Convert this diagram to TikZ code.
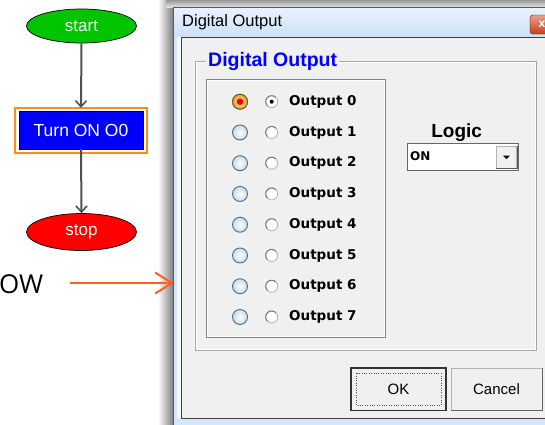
\documentclass[tikz,border=0pt]{standalone}
\usepackage{fontspec}
\setmainfont{Liberation Sans}
\newfontfamily\dvsans{DejaVu Sans}
\newfontfamily\opensans{Open Sans}
\usetikzlibrary{arrows.meta,shapes.geometric,shadings}
\newcommand\fsz[1]{\fontsize{#1}{#1}\selectfont}

\definecolor{dlgbg}{RGB}{240,240,240}
\definecolor{framebl}{RGB}{214,231,250}
\definecolor{titletop}{RGB}{232,242,253}
\definecolor{titlebot}{RGB}{205,224,246}
\definecolor{flowgray}{RGB}{80,80,80}
\definecolor{startgreen}{RGB}{0,196,0}
\definecolor{procblue}{RGB}{0,0,255}
\definecolor{procorange}{RGB}{255,140,20}
\definecolor{ptrorange}{RGB}{255,96,32}
\definecolor{radioedge}{RGB}{70,110,140}
\definecolor{radioin}{RGB}{252,253,254}
\definecolor{radioout}{RGB}{205,218,226}
\definecolor{selin}{RGB}{255,236,160}
\definecolor{selout}{RGB}{225,160,50}
\definecolor{closetop}{RGB}{235,160,140}
\definecolor{closebot}{RGB}{200,60,30}

\begin{document}
\begin{tikzpicture}[x=1pt,y=-1pt,
  flowline/.style={draw=flowgray,line width=2pt,
    -{Straight Barb[length=6pt,width=11pt,line width=1.6pt]}},
  term/.style={ellipse,draw=black,line width=0.7pt,minimum width=110pt,
    inner sep=0pt,text=white,font=\fsz{17}},
  procbox/.style={rectangle,draw=black,line width=0.7pt,fill=procblue,
    text=white,minimum width=124pt,minimum height=37.7pt,inner sep=0pt,
    font=\fsz{17.5}},
  pointer/.style={draw=ptrorange,line width=2pt,
    -{Straight Barb[length=17pt,width=21pt,line width=2pt]}},
  bigradio/.style={circle,draw=radioedge,line width=0.9pt,minimum size=15pt,
    inner sep=0pt,shading=radial,inner color=radioin,outer color=radioout},
  smallradio/.style={circle,draw=black!30,line width=0.8pt,fill=white,
    minimum size=12pt,inner sep=0pt},
  outlabel/.style={anchor=west,inner sep=0pt,font=\dvsans\bfseries\fsz{13.5}},
  btn/.style={rectangle,fill=dlgbg,inner sep=0pt,minimum height=42.7pt,
    font=\fsz{15}}
]
\useasboundingbox (0,0) rectangle (545,424);
\fill[white] (0,0) rectangle (545,424);

% drop shadow of the dialog window
\shade[left color=white,right color=black!50] (158,0) rectangle (173,424);
\shade[top color=black!40,bottom color=black!12] (166,0) rectangle (545,7);

% window frame and title bar
\fill[framebl] (173,7) rectangle (560,430);
\shade[top color=titletop,bottom color=titlebot] (174,8) rectangle (560,37);
\fill[white!70!framebl] (177,37) rectangle (181,418);
\draw[black!65,line width=0.8pt] (173,7) rectangle (560,430);
\node[anchor=west,inner sep=0pt,font=\fsz{16.5}] (title) at (182,22.5) {Digital Output};

% close button
\shade[top color=closetop,bottom color=closebot,draw=black!60!red,
  rounded corners=3pt] (530,15) rectangle (565,34);
\node[text=white,font=\bfseries\fsz{12}] (closex) at (542,24) {x};

% client area
\filldraw[fill=dlgbg,draw=black!75,line width=1.2pt] (181.5,37.5) rectangle (560,418.5);

% group box
\draw[black!35] (195.5,61) rectangle (536.5,350);
\draw[white] (196.5,62) rectangle (535.5,349);
\node[anchor=west,fill=dlgbg,inner xsep=2pt,inner ysep=1pt,text=procblue,
  font=\bfseries\fsz{19.5}] (grp) at (206,61) {Digital Output};

% radio panel
\draw[black!50] (206.5,79.5) rectangle (385,337.5);
\draw[white] (207.5,80.5) rectangle (384,336.5);

\foreach \i in {0,...,7}{
  \pgfmathsetmacro\yy{101.7+30.75*\i}
  \node[bigradio] (rb\i) at (240,\yy) {};
  \node[smallradio] (rs\i) at (271.7,\yy) {};
  \draw[black!55,line width=0.9pt] ([shift={(4.24pt,4.24pt)}]rs\i.center)
    arc[start angle=45,end angle=225,radius=6pt];
  \node[outlabel] (lb\i) at (289,\yy) {Output \i};
}
% selected entry
\node[bigradio,inner color=selin,outer color=selout,draw=black!45!selout] (rbsel) at (240,101.7) {};
\fill[red] (rbsel.center) circle[radius=3.3pt];
\fill[black] (rs0.center) circle[radius=2pt];

% logic selector
\node[font=\bfseries\fsz{19}] (logic) at (456.7,133) {Logic};
\node[anchor=north west,draw=black!60,line width=1.2pt,fill=white,
  minimum width=111pt,minimum height=27pt,inner sep=0pt] (combo) at (406.5,143) {};
\node[anchor=west,inner sep=0pt,font=\dvsans\bfseries\fsz{12}] (onval) at (410,156.5) {ON};
\node[anchor=east,fill=dlgbg,draw=black!30,minimum width=20pt,minimum height=22pt,
  inner sep=0pt] (drop) at ([xshift=-2pt]combo.east) {};
\draw[black!65] (drop.north east) -- (drop.south east) -- (drop.south west);
\fill (drop.center) ++(-3.5,-1.5) -- ++(7,0) -- ++(-3.5,3.5) -- cycle;

% buttons
\node[btn,draw=black!80,line width=1.6pt,minimum width=95pt] (ok) at (398.5,389.3) {OK};
\draw[dotted,black!70] ([shift={(6pt,-6pt)}]ok.north west) rectangle ([shift={(-6pt,6pt)}]ok.south east);
\node[btn,draw=black!30,minimum width=91pt] (cancel) at (496.5,389.3) {Cancel};
\draw[black!60,line width=0.9pt] (cancel.north east) -- (cancel.south east) -- (cancel.south west);

% flowchart
\node[term,fill=startgreen,minimum height=34pt] (start) at (81.5,26) {start};
\node[procbox] (turn) at (81,130) {Turn ON O0};
\draw[white,line width=1.5pt] ([shift={(-1.5pt,1.5pt)}]turn.north west) rectangle ([shift={(1.5pt,-1.5pt)}]turn.south east);
\draw[procorange,line width=2pt] ([shift={(-3.3pt,3.3pt)}]turn.north west) rectangle ([shift={(3.3pt,-3.3pt)}]turn.south east);
\node[term,fill=red,minimum height=37pt] (stop) at (81.5,232) {stop};
\draw[flowline] (start.south) -- ([yshift=3pt]turn.north);
\draw[flowline] (turn.south) -- (stop.north);

% pointer
\node[anchor=west,inner sep=0pt,font=\opensans\fsz{26}] (ow) at (-1,284) {OW};
\coordinate (tail) at (70,283);
\coordinate (winedge) at (174,283);
\draw[pointer] (tail) -- (winedge);
\end{tikzpicture}
\end{document}
